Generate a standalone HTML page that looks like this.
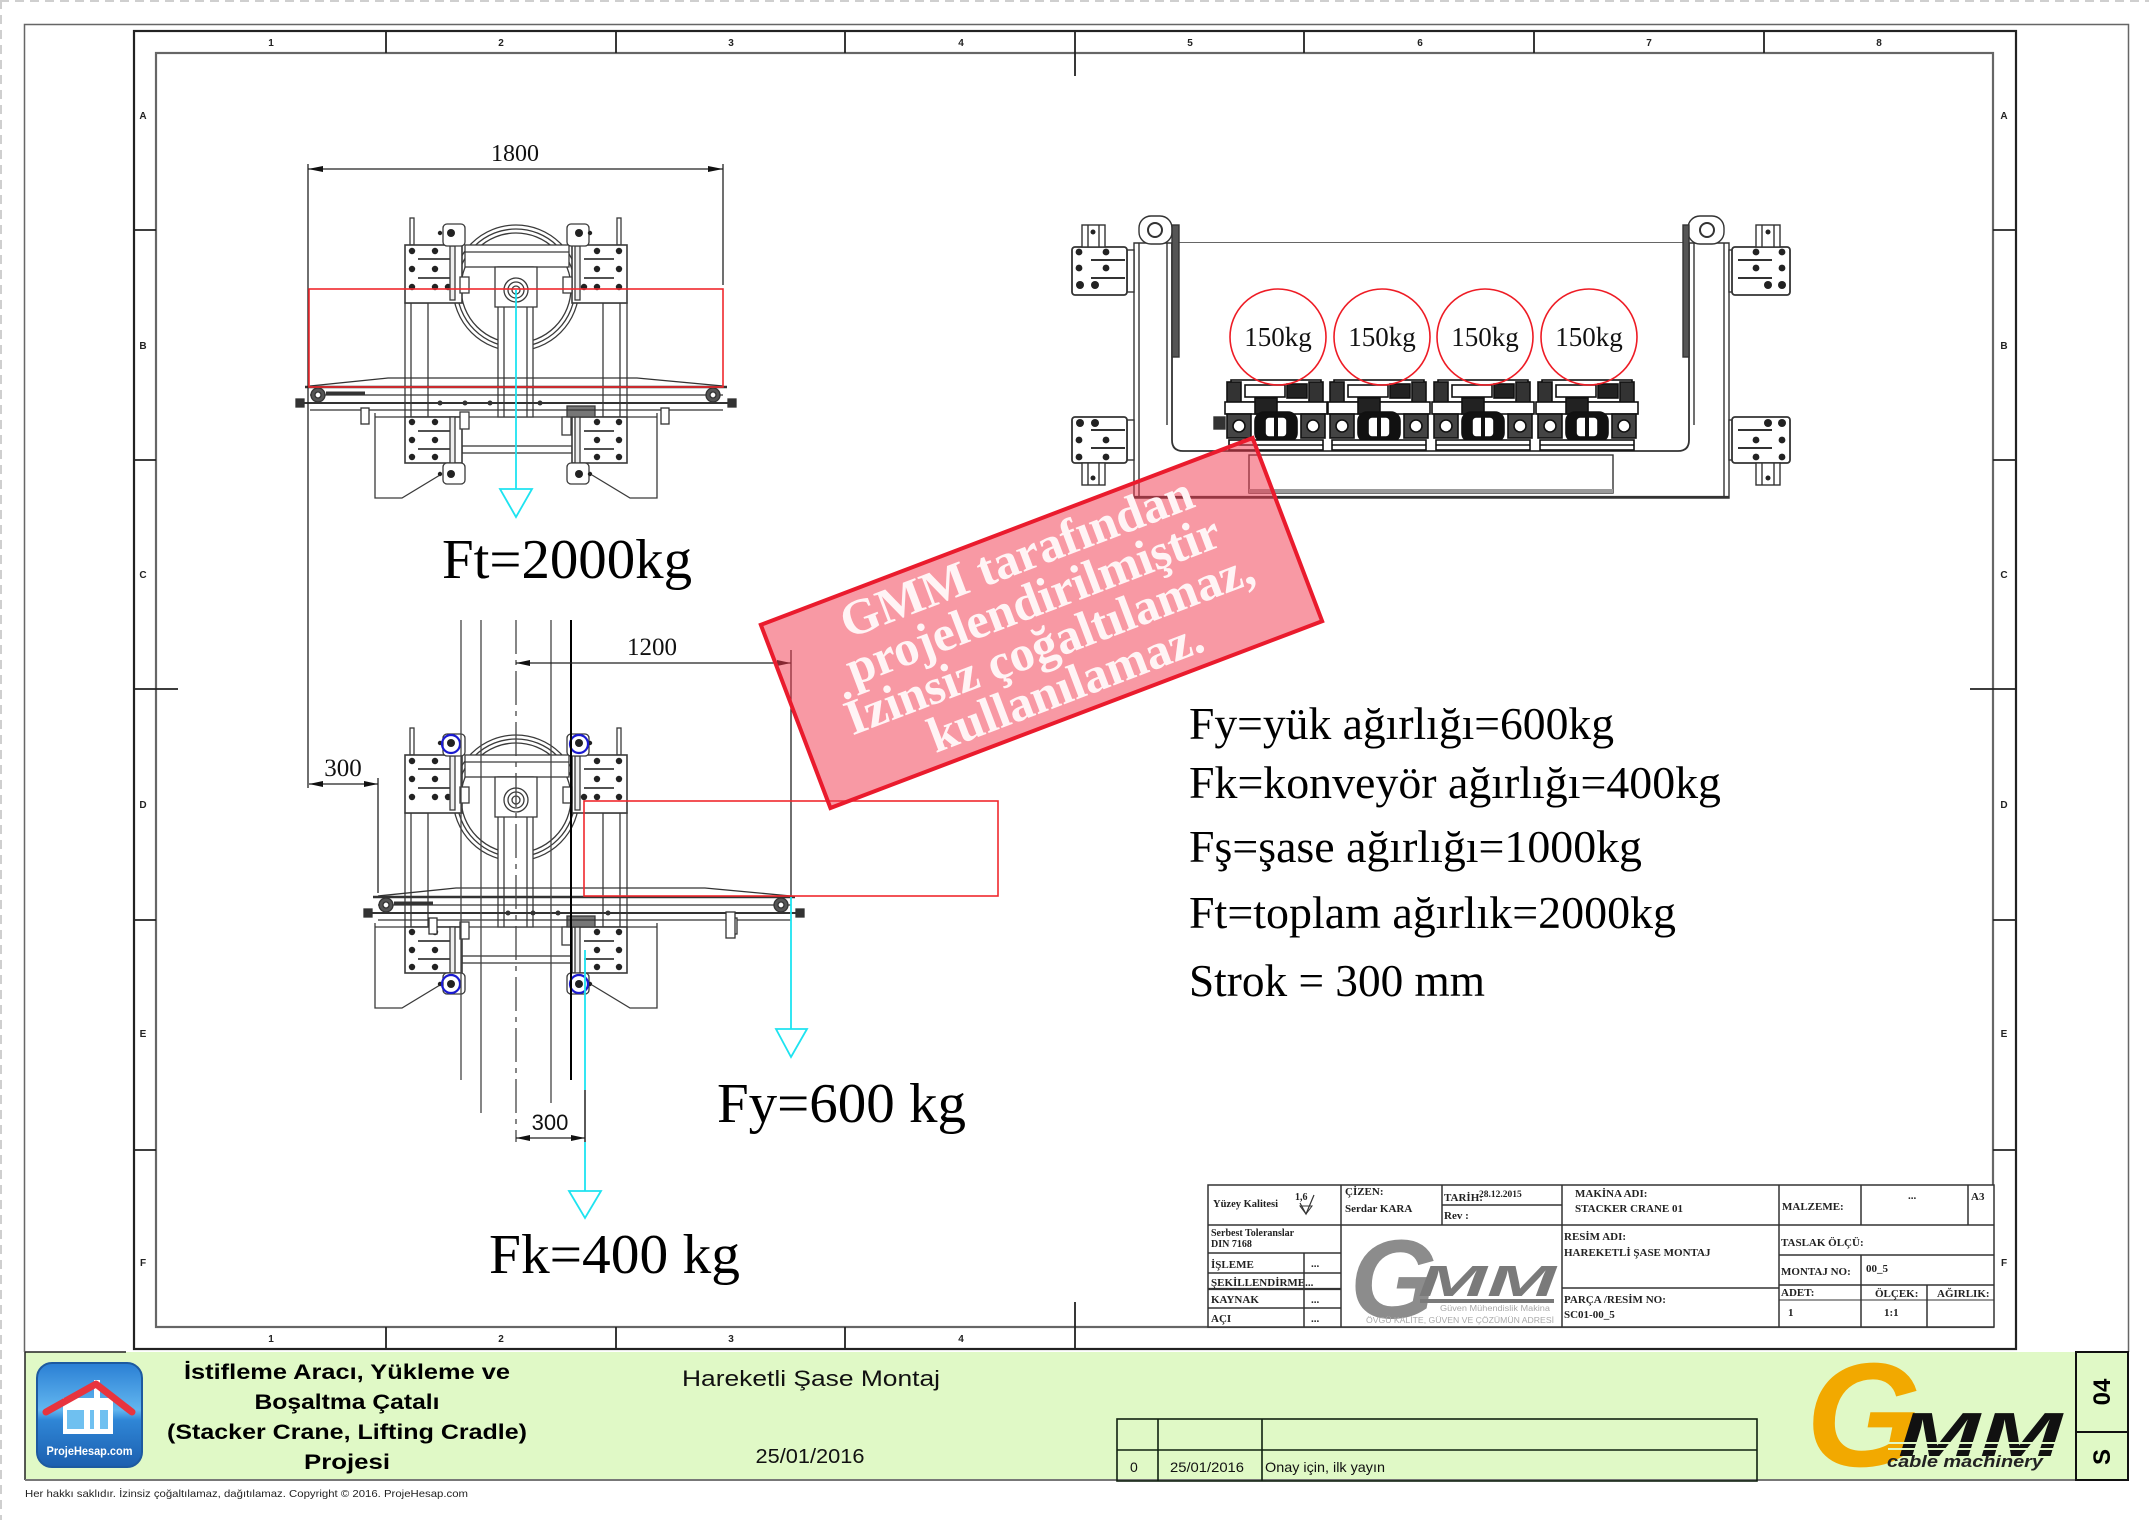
<!DOCTYPE html>
<html><head><meta charset="utf-8"><style>
html,body{margin:0;padding:0;background:#fff;}
svg{display:block;}
.s{font-family:"Liberation Sans",sans-serif;}
.r{font-family:"Liberation Serif",serif;}
</style></head><body>
<svg width="2149" height="1520" viewBox="0 0 2149 1520" xmlns="http://www.w3.org/2000/svg">
<defs>
<linearGradient id="pb" x1="0" y1="0" x2="0" y2="1">
<stop offset="0" stop-color="#2a7fd4"/><stop offset="0.45" stop-color="#62b6ef"/><stop offset="0.55" stop-color="#2f86d6"/><stop offset="1" stop-color="#1c5faf"/>
</linearGradient>
<g id="cr" fill="none" stroke="#3a3a3a" stroke-width="1.3">
 <circle cx="516" cy="288" r="63"/><circle cx="516" cy="288" r="59"/><circle cx="516" cy="288" r="55"/>
 <line x1="375" y1="417" x2="657" y2="417"/>
 <path d="M375,413 V498 H402 L440,475"/><path d="M657,413 V498 H630 L592,475"/>
 <rect x="462" y="446" width="110" height="7" fill="#fff"/>
 <rect x="465" y="245" width="104" height="22" fill="#fff"/>
 <line x1="465" y1="252" x2="569" y2="252"/>
 <rect x="498" y="267" width="35" height="150" fill="#fff"/>
 <line x1="504" y1="307" x2="504" y2="417"/><line x1="527" y1="307" x2="527" y2="417"/>
 <rect x="495" y="267" width="42" height="40" fill="#fff"/>
 <circle cx="516" cy="290" r="12"/><circle cx="516" cy="290" r="8"/><circle cx="516" cy="290" r="4"/>
 <rect x="410" y="218" width="4" height="27" fill="#fff"/><rect x="617" y="218" width="4" height="27" fill="#fff"/>
 <rect x="405" y="303" width="23" height="114" fill="#fff"/><line x1="411" y1="303" x2="411" y2="417"/>
 <rect x="603" y="303" width="24" height="114" fill="#fff"/><line x1="620" y1="303" x2="620" y2="417"/>
 <line x1="428" y1="303" x2="452" y2="293"/><line x1="603" y1="303" x2="579" y2="293"/>
 <rect x="405" y="245" width="57" height="58" fill="#fff" stroke-width="1.6"/>
 <rect x="572" y="245" width="55" height="58" fill="#fff" stroke-width="1.6"/>
 <rect x="405" y="417" width="57" height="46" fill="#fff" stroke-width="1.6"/>
 <rect x="572" y="417" width="55" height="46" fill="#fff" stroke-width="1.6"/>
 <g stroke-width="1.8"><line x1="418" y1="259" x2="450" y2="259"/><line x1="418" y1="278" x2="450" y2="278"/>
 <line x1="584" y1="259" x2="614" y2="259"/><line x1="584" y1="278" x2="614" y2="278"/>
 <line x1="418" y1="431" x2="450" y2="431"/><line x1="418" y1="449" x2="450" y2="449"/>
 <line x1="584" y1="431" x2="614" y2="431"/><line x1="584" y1="449" x2="614" y2="449"/></g>
 <g fill="#222" stroke="none">
 <circle cx="412" cy="251" r="3.2"/><circle cx="435" cy="251" r="3.2"/><circle cx="412" cy="269" r="3.2"/><circle cx="435" cy="269" r="3.2"/><circle cx="412" cy="287" r="3.2"/><circle cx="435" cy="287" r="3.2"/><circle cx="448" cy="287" r="3.2"/>
 <circle cx="597" cy="251" r="3.2"/><circle cx="619" cy="251" r="3.2"/><circle cx="597" cy="269" r="3.2"/><circle cx="619" cy="269" r="3.2"/><circle cx="584" cy="287" r="3.2"/><circle cx="597" cy="287" r="3.2"/><circle cx="619" cy="287" r="3.2"/>
 <circle cx="412" cy="422" r="3.2"/><circle cx="435" cy="422" r="3.2"/><circle cx="412" cy="440" r="3.2"/><circle cx="435" cy="440" r="3.2"/><circle cx="412" cy="457" r="3.2"/><circle cx="435" cy="457" r="3.2"/>
 <circle cx="597" cy="422" r="3.2"/><circle cx="619" cy="422" r="3.2"/><circle cx="597" cy="440" r="3.2"/><circle cx="619" cy="440" r="3.2"/><circle cx="597" cy="457" r="3.2"/><circle cx="619" cy="457" r="3.2"/>
 </g>
 <rect x="450" y="246" width="5" height="54" fill="#eee"/><rect x="575" y="246" width="5" height="54" fill="#eee"/>
 <rect x="450" y="417" width="5" height="46" fill="#eee"/><rect x="575" y="417" width="5" height="46" fill="#eee"/>
 <rect x="460" y="277" width="9" height="16" fill="#fff"/><rect x="563" y="277" width="9" height="16" fill="#fff"/>
 <rect x="460" y="412" width="9" height="17" fill="#fff"/><rect x="562" y="417" width="9" height="18" fill="#fff"/>
 <rect x="567" y="406" width="28" height="11" fill="#777"/>
 <rect x="443" y="224" width="22" height="22" rx="4" fill="#fff"/><rect x="567" y="224" width="22" height="22" rx="4" fill="#fff"/>
 <rect x="443" y="463" width="22" height="21" rx="4" fill="#fff"/><rect x="567" y="463" width="22" height="21" rx="4" fill="#fff"/>
 <g fill="#222" stroke="none"><circle cx="451" cy="233" r="4"/><circle cx="579" cy="233" r="4"/><circle cx="451" cy="474" r="4"/><circle cx="579" cy="474" r="4"/>
 <circle cx="440" cy="233" r="2.2"/><circle cx="590" cy="233" r="2.2"/><circle cx="440" cy="474" r="2.2"/><circle cx="590" cy="474" r="2.2"/></g>
</g>
<g id="cv" fill="none" stroke="#333" stroke-width="1.3">
 <path d="M310,386 L388,378 L637,378 L723,386"/>
 <line x1="305" y1="387" x2="727" y2="387" stroke-width="2.5"/>
 <line x1="310" y1="395" x2="723" y2="395"/>
 <line x1="300" y1="403" x2="732" y2="403" stroke-width="2"/>
 <line x1="310" y1="410" x2="723" y2="410"/>
 <circle cx="318" cy="395" r="7" fill="#555"/><circle cx="318" cy="395" r="3" fill="#fff"/>
 <circle cx="713" cy="395" r="7" fill="#555"/><circle cx="713" cy="395" r="3" fill="#fff"/>
 <rect x="296" y="399" width="8" height="8" fill="#333"/><rect x="728" y="399" width="8" height="8" fill="#333"/>
 <line x1="326" y1="393" x2="365" y2="393" stroke-width="3"/>
 <rect x="361" y="408" width="8" height="16" fill="#fff"/><rect x="661" y="408" width="8" height="16" fill="#fff"/>
 <g fill="#333" stroke="none"><circle cx="440" cy="403" r="2.5"/><circle cx="465" cy="403" r="2.5"/><circle cx="490" cy="403" r="2.5"/><circle cx="540" cy="403" r="2.5"/></g>
</g>
<g id="cu" fill="none" stroke="#111" stroke-width="1.6">
 <rect x="6" y="0" width="90" height="22" fill="#fff"/>
 <rect x="20" y="5" width="40" height="12" fill="#fff"/>
 <rect x="2" y="2" width="14" height="26" fill="#333"/>
 <rect x="84" y="2" width="14" height="26" fill="#333"/>
 <rect x="62" y="4" width="20" height="14" fill="#222"/>
 <rect x="0" y="22" width="102" height="12" fill="#fff"/>
 <rect x="30" y="18" width="22" height="16" fill="#222"/>
 <rect x="2" y="34" width="24" height="24" fill="#444"/>
 <circle cx="14" cy="46" r="6" fill="#fff"/>
 <rect x="30" y="32" width="42" height="30" rx="9" fill="#111"/>
 <rect x="40" y="37" width="22" height="20" rx="4" fill="#fff"/>
 <line x1="51" y1="37" x2="51" y2="57" stroke-width="4"/>
 <rect x="76" y="34" width="24" height="24" fill="#444"/>
 <circle cx="88" cy="46" r="6" fill="#fff"/>
 <rect x="4" y="60" width="94" height="10" fill="#fff"/>
 <line x1="4" y1="65" x2="98" y2="65"/>
</g>
</defs>

<rect x="0" y="0" width="2149" height="1520" fill="#fff"/>
<line x1="0" y1="1" x2="2149" y2="1" stroke="#cfcfcf" stroke-width="2" stroke-dasharray="9 6"/>
<line x1="1" y1="0" x2="1" y2="1520" stroke="#cfcfcf" stroke-width="2" stroke-dasharray="9 6"/>
<path d="M24.5,1352 V24.5 H2128.5 V1352" fill="none" stroke="#666" stroke-width="1.5"/>

<!-- drawing frame -->
<rect x="134" y="31" width="1882" height="1318" fill="none" stroke="#222" stroke-width="2.2"/>
<rect x="156" y="53" width="1837" height="1274" fill="none" stroke="#666" stroke-width="2.2"/>
<g stroke="#222" stroke-width="1.8">
<line x1="386" y1="31" x2="386" y2="53"/><line x1="616" y1="31" x2="616" y2="53"/><line x1="845" y1="31" x2="845" y2="53"/><line x1="1075" y1="31" x2="1075" y2="76"/><line x1="1304" y1="31" x2="1304" y2="53"/><line x1="1534" y1="31" x2="1534" y2="53"/><line x1="1764" y1="31" x2="1764" y2="53"/>
<line x1="386" y1="1327" x2="386" y2="1349"/><line x1="616" y1="1327" x2="616" y2="1349"/><line x1="845" y1="1327" x2="845" y2="1349"/><line x1="1075" y1="1302" x2="1075" y2="1349"/>
<line x1="134" y1="230" x2="156" y2="230"/><line x1="134" y1="460" x2="156" y2="460"/><line x1="134" y1="689" x2="178" y2="689"/><line x1="134" y1="920" x2="156" y2="920"/><line x1="134" y1="1150" x2="156" y2="1150"/>
<line x1="1993" y1="230" x2="2016" y2="230"/><line x1="1993" y1="460" x2="2016" y2="460"/><line x1="1970" y1="689" x2="2016" y2="689"/><line x1="1993" y1="920" x2="2016" y2="920"/><line x1="1993" y1="1150" x2="2016" y2="1150"/>
</g>
<g class="s" font-size="10" font-weight="bold" fill="#222" text-anchor="middle">
<text x="271" y="46">1</text><text x="501" y="46">2</text><text x="731" y="46">3</text><text x="961" y="46">4</text><text x="1190" y="46">5</text><text x="1420" y="46">6</text><text x="1649" y="46">7</text><text x="1879" y="46">8</text>
<text x="271" y="1342">1</text><text x="501" y="1342">2</text><text x="731" y="1342">3</text><text x="961" y="1342">4</text>
<text x="143" y="119">A</text><text x="143" y="349">B</text><text x="143" y="578">C</text><text x="143" y="808">D</text><text x="143" y="1037">E</text><text x="143" y="1266">F</text>
<text x="2004" y="119">A</text><text x="2004" y="349">B</text><text x="2004" y="578">C</text><text x="2004" y="808">D</text><text x="2004" y="1037">E</text><text x="2004" y="1266">F</text>
</g>

<!-- drawing 1 & 2 -->
<use href="#cr"/>
<use href="#cv"/>
<use href="#cr" transform="translate(0,510)"/>
<use href="#cv" transform="translate(68,510)"/>
<g fill="none" stroke="#333" stroke-width="1.3"><rect x="726" y="912" width="9" height="26" fill="#fff"/></g>
<g fill="none" stroke="#1a1ad0" stroke-width="2.2">
<circle cx="451" cy="744" r="9"/><circle cx="579" cy="744" r="9"/><circle cx="451" cy="984" r="9"/><circle cx="579" cy="984" r="9"/>
</g>
<!-- long vertical lines of drawing 2 -->
<g stroke="#444" stroke-width="1.3">
<line x1="461" y1="620" x2="461" y2="1080"/>
<line x1="481" y1="620" x2="481" y2="1113"/>
<line x1="516" y1="620" x2="516" y2="1142" stroke-dasharray="34 6 5 6"/>
<line x1="551" y1="620" x2="551" y2="1103"/>
<line x1="571" y1="620" x2="571" y2="1080" stroke="#000" stroke-width="2"/>
<line x1="585" y1="1090" x2="585" y2="1142" stroke="#000"/>
</g>

<!-- dimensions -->
<g stroke="#222" stroke-width="1.3" fill="none">
<line x1="308" y1="164" x2="308" y2="788"/>
<line x1="723" y1="164" x2="723" y2="285"/>
<line x1="308" y1="169" x2="723" y2="169"/>
<line x1="309" y1="784" x2="378" y2="784"/>
<line x1="378" y1="778" x2="378" y2="893"/>
<line x1="516" y1="663" x2="791" y2="663"/>
<line x1="791" y1="650" x2="791" y2="897"/>
<line x1="516" y1="1138" x2="585" y2="1138"/>
</g>
<g fill="#111">
<polygon points="308,169 323,166 323,172"/><polygon points="723,169 708,166 708,172"/>
<polygon points="309,784 323,781 323,787"/><polygon points="378,784 364,781 364,787"/>
<polygon points="516,663 530,660 530,666"/><polygon points="791,663 777,660 777,666"/>
<polygon points="516,1138 530,1135 530,1141"/><polygon points="585,1138 571,1135 571,1141"/>
</g>
<g class="r" fill="#111" text-anchor="middle">
<text x="515" y="161" font-size="24">1800</text>
<text x="652" y="655" font-size="25">1200</text>
<text x="343" y="776" font-size="25">300</text>
</g>
<text class="s" x="550" y="1130" font-size="22" fill="#111" text-anchor="middle">300</text>

<!-- red load rectangles -->
<g fill="none" stroke="#f0282d" stroke-width="1.6">
<rect x="309" y="289" width="414" height="98"/>
<rect x="584" y="801" width="414" height="95"/>
</g>

<!-- right side view -->
<g fill="none" stroke="#333" stroke-width="1.4">
 <path d="M1134,243 V498 H1729 V243 Z" fill="none"/>
 <line x1="1139" y1="243" x2="1139" y2="498"/><line x1="1724" y1="243" x2="1724" y2="498"/>
 <line x1="1167" y1="243" x2="1167" y2="425"/><line x1="1694" y1="243" x2="1694" y2="425"/>
 <path d="M1172,243 V440 Q1172,451 1183,451 H1678 Q1689,451 1689,440 V243" stroke-width="1.8" fill="#fff"/>
 <rect x="1249" y="455" width="364" height="38"/>
 <line x1="1249" y1="491" x2="1613" y2="491" stroke="#999" stroke-width="4"/>
 <line x1="1134" y1="497" x2="1729" y2="497" stroke-width="2.2"/>
 <rect x="1139" y="216" width="33" height="28" rx="12" fill="#fff"/>
 <circle cx="1155" cy="230" r="7" stroke-width="2"/>
 <rect x="1688" y="216" width="36" height="28" rx="12" fill="#fff"/>
 <circle cx="1707" cy="230" r="7" stroke-width="2"/>
 <rect x="1172" y="225" width="7" height="132" fill="#555"/>
 <rect x="1683" y="225" width="6" height="132" fill="#555"/>
 <rect x="1127" y="250" width="7" height="42" fill="#fff"/><rect x="1127" y="420" width="7" height="40" fill="#fff"/>
 <rect x="1729" y="250" width="4" height="42" fill="#fff"/><rect x="1729" y="420" width="4" height="40" fill="#fff"/>
 <rect x="1072" y="247" width="55" height="48" rx="3" fill="#fff" stroke-width="1.8"/>
 <rect x="1072" y="417" width="55" height="46" rx="3" fill="#fff" stroke-width="1.8"/>
 <rect x="1732" y="247" width="58" height="48" rx="3" fill="#fff" stroke-width="1.8"/>
 <rect x="1732" y="417" width="58" height="46" rx="3" fill="#fff" stroke-width="1.8"/>
 <rect x="1082" y="225" width="23" height="22" fill="#fff"/><line x1="1088" y1="225" x2="1088" y2="247"/><line x1="1099" y1="225" x2="1099" y2="247"/>
 <rect x="1082" y="463" width="23" height="22" fill="#fff"/><line x1="1088" y1="463" x2="1088" y2="485"/><line x1="1099" y1="463" x2="1099" y2="485"/>
 <rect x="1756" y="225" width="24" height="22" fill="#fff"/><line x1="1762" y1="225" x2="1762" y2="247"/><line x1="1774" y1="225" x2="1774" y2="247"/>
 <rect x="1756" y="463" width="24" height="22" fill="#fff"/><line x1="1762" y1="463" x2="1762" y2="485"/><line x1="1774" y1="463" x2="1774" y2="485"/>
 <g stroke-width="2"><line x1="1091" y1="260" x2="1125" y2="260"/><line x1="1091" y1="278" x2="1125" y2="278"/>
 <line x1="1091" y1="430" x2="1125" y2="430"/><line x1="1091" y1="448" x2="1125" y2="448"/>
 <line x1="1738" y1="260" x2="1772" y2="260"/><line x1="1738" y1="278" x2="1772" y2="278"/>
 <line x1="1738" y1="430" x2="1772" y2="430"/><line x1="1738" y1="448" x2="1772" y2="448"/></g>
 <g fill="#222" stroke="none">
 <circle cx="1079" cy="252" r="3.4"/><circle cx="1106" cy="252" r="3.4"/><circle cx="1079" cy="268" r="3.4"/><circle cx="1106" cy="268" r="3.4"/><circle cx="1080" cy="285" r="4"/><circle cx="1095" cy="285" r="4"/>
 <circle cx="1080" cy="423" r="4"/><circle cx="1095" cy="423" r="4"/><circle cx="1079" cy="440" r="3.4"/><circle cx="1106" cy="440" r="3.4"/><circle cx="1079" cy="457" r="3.4"/><circle cx="1106" cy="457" r="3.4"/>
 <circle cx="1756" cy="252" r="3.4"/><circle cx="1782" cy="252" r="3.4"/><circle cx="1756" cy="268" r="3.4"/><circle cx="1782" cy="268" r="3.4"/><circle cx="1768" cy="285" r="4"/><circle cx="1782" cy="285" r="4"/>
 <circle cx="1768" cy="423" r="4"/><circle cx="1782" cy="423" r="4"/><circle cx="1756" cy="440" r="3.4"/><circle cx="1782" cy="440" r="3.4"/><circle cx="1756" cy="457" r="3.4"/><circle cx="1782" cy="457" r="3.4"/>
 <circle cx="1093" cy="232" r="2.5"/><circle cx="1093" cy="478" r="2.5"/><circle cx="1768" cy="232" r="2.5"/><circle cx="1768" cy="478" r="2.5"/>
 </g>
 <rect x="1214" y="417" width="11" height="12" fill="#333"/>
</g>
<use href="#cu" transform="translate(1225,380)"/>
<use href="#cu" transform="translate(1328,380)"/>
<use href="#cu" transform="translate(1432,380)"/>
<use href="#cu" transform="translate(1536,380)"/>
<g fill="none" stroke="#ee1c25" stroke-width="1.6">
<circle cx="1278" cy="337" r="48"/><circle cx="1382" cy="337" r="48"/><circle cx="1485" cy="337" r="48"/><circle cx="1589" cy="337" r="48"/>
</g>
<g class="r" font-size="27" fill="#111" text-anchor="middle">
<text x="1278" y="346">150kg</text><text x="1382" y="346">150kg</text><text x="1485" y="346">150kg</text><text x="1589" y="346">150kg</text>
</g>

<!-- force arrows -->
<g fill="none" stroke="#1ee3f0" stroke-width="1.8">
<line x1="516" y1="290" x2="516" y2="489"/><polygon points="500,489 532,489 516,517"/>
<line x1="791" y1="897" x2="791" y2="1029"/><polygon points="776,1029 807,1029 791,1057"/>
<line x1="585" y1="950" x2="585" y2="1090"/><line x1="585" y1="1142" x2="585" y2="1191"/><polygon points="569,1191 601,1191 585,1218"/>
</g>
<g class="r" fill="#000" font-size="56">
<text x="442" y="578" textLength="250" lengthAdjust="spacingAndGlyphs">Ft=2000kg</text>
<text x="717" y="1122" textLength="249" lengthAdjust="spacingAndGlyphs">Fy=600 kg</text>
<text x="489" y="1273" textLength="251" lengthAdjust="spacingAndGlyphs">Fk=400 kg</text>
</g>
<g class="r" fill="#000" font-size="45">
<text x="1189" y="739" textLength="425" lengthAdjust="spacingAndGlyphs">Fy=yük ağırlığı=600kg</text>
<text x="1189" y="798" textLength="532" lengthAdjust="spacingAndGlyphs">Fk=konveyör ağırlığı=400kg</text>
<text x="1189" y="862" textLength="453" lengthAdjust="spacingAndGlyphs">Fş=şase ağırlığı=1000kg</text>
<text x="1189" y="928" textLength="487" lengthAdjust="spacingAndGlyphs">Ft=toplam ağırlık=2000kg</text>
<text x="1189" y="996" textLength="296" lengthAdjust="spacingAndGlyphs">Strok = 300 mm</text>
</g>

<!-- title block -->
<g stroke="#333" stroke-width="1.5" fill="none">
<rect x="1208" y="1185" width="786" height="142" fill="#fff"/>
<line x1="1208" y1="1225" x2="1994" y2="1225"/>
<line x1="1341" y1="1185" x2="1341" y2="1327"/>
<line x1="1442" y1="1185" x2="1442" y2="1225"/>
<line x1="1562" y1="1185" x2="1562" y2="1327"/>
<line x1="1779" y1="1185" x2="1779" y2="1327"/>
<line x1="1861" y1="1185" x2="1861" y2="1225"/>
<line x1="1968" y1="1185" x2="1968" y2="1225"/>
<line x1="1442" y1="1205" x2="1562" y2="1205"/>
<line x1="1208" y1="1253" x2="1341" y2="1253"/>
<line x1="1208" y1="1273" x2="1341" y2="1273"/>
<line x1="1208" y1="1289" x2="1341" y2="1289" stroke-width="2.2"/>
<line x1="1208" y1="1308" x2="1341" y2="1308"/>
<line x1="1304" y1="1253" x2="1304" y2="1327"/>
<line x1="1562" y1="1288" x2="1779" y2="1288"/>
<line x1="1779" y1="1255" x2="1994" y2="1255"/>
<line x1="1779" y1="1285" x2="1994" y2="1285"/>
<line x1="1861" y1="1255" x2="1861" y2="1327"/>
<line x1="1927" y1="1285" x2="1927" y2="1327"/>
<line x1="1779" y1="1300" x2="1994" y2="1300" stroke-width="1"/>
<path d="M1300,1203 L1306,1214 L1314,1195" stroke-width="1.2"/>
<path d="M1300,1206 H1312 L1306,1214 Z" stroke-width="1"/>
</g>
<g class="r" font-weight="bold" fill="#222" font-size="11">
<text x="1213" y="1207" font-size="10.5">Yüzey Kalitesi</text>
<text x="1295" y="1200" font-size="10">1,6</text>
<text x="1345" y="1195">ÇİZEN:</text>
<text x="1345" y="1212">Serdar KARA</text>
<text x="1444" y="1201">TARİH:</text>
<text x="1479" y="1197" font-size="9.5">28.12.2015</text>
<text x="1444" y="1219">Rev :</text>
<text x="1575" y="1197">MAKİNA ADI:</text>
<text x="1575" y="1212">STACKER CRANE 01</text>
<text x="1782" y="1210">MALZEME:</text>
<text x="1908" y="1199">...</text>
<text x="1971" y="1200">A3</text>
<text x="1211" y="1236" font-size="10">Serbest Toleranslar</text>
<text x="1211" y="1247" font-size="10">DIN 7168</text>
<text x="1211" y="1268">İŞLEME</text><text x="1311" y="1267">...</text>
<text x="1211" y="1286">ŞEKİLLENDİRME...</text>
<text x="1211" y="1303">KAYNAK</text><text x="1311" y="1303">...</text>
<text x="1211" y="1322">AÇI</text><text x="1311" y="1322">...</text>
<text x="1564" y="1240">RESİM ADI:</text>
<text x="1564" y="1256">HAREKETLİ ŞASE MONTAJ</text>
<text x="1564" y="1303">PARÇA /RESİM NO:</text>
<text x="1564" y="1318">SC01-00_5</text>
<text x="1781" y="1246">TASLAK ÖLÇÜ:</text>
<text x="1781" y="1275">MONTAJ NO:</text><text x="1866" y="1272">00_5</text>
<text x="1781" y="1296">ADET:</text><text x="1788" y="1316">1</text>
<text x="1875" y="1297">ÖLÇEK:</text><text x="1884" y="1316">1:1</text>
<text x="1937" y="1297">AĞIRLIK:</text>
</g>
<!-- grey GMM logo in title block -->
<text class="s" x="1350" y="1318" font-size="112" font-weight="bold" font-style="italic" fill="#8c8c8c">G</text>
<text class="s" x="1418" y="1296" font-size="44" font-weight="bold" font-style="italic" fill="#7a7a7a" textLength="138" lengthAdjust="spacingAndGlyphs">MM</text>
<rect x="1420" y="1299" width="134" height="4" fill="#7a7a7a"/>
<text class="s" x="1440" y="1311" font-size="8" fill="#aaa" textLength="110" lengthAdjust="spacingAndGlyphs">Güven Mühendislik Makina</text>
<text class="s" x="1366" y="1323" font-size="8" fill="#aaa" textLength="188" lengthAdjust="spacingAndGlyphs">ÖVGÜ KALİTE, GÜVEN VE ÇÖZÜMÜN ADRESİ</text>

<!-- watermark stamp -->
<g transform="translate(1041.5,623) rotate(-20.8)">
<rect x="-263" y="-98" width="526" height="196" fill="rgba(242,60,80,0.52)" stroke="#ea1b2d" stroke-width="4"/>
<g class="r" font-weight="bold" font-size="50" fill="#fff4f5" text-anchor="middle">
<text x="0" y="-54">GMM tarafından</text>
<text x="0" y="-8">projelendirilmiştir</text>
<text x="0" y="38">İzinsiz çoğaltılamaz,</text>
<text x="0" y="84">kullanılamaz.</text>
</g>
</g>

<!-- green title band -->
<rect x="25" y="1352" width="2103" height="128" fill="#e0f9c6"/>
<line x1="25" y1="1352" x2="25" y2="1480" stroke="#222" stroke-width="1.5"/>
<line x1="25" y1="1352" x2="126" y2="1352" stroke="#222" stroke-width="1.5"/>
<line x1="25" y1="1480" x2="2076" y2="1480" stroke="#777" stroke-width="2"/>
<!-- ProjeHesap logo -->
<rect x="37" y="1363" width="105" height="104" rx="15" fill="url(#pb)" stroke="#1d5aa0" stroke-width="2"/>
<rect x="63" y="1398" width="50" height="36" fill="#fff"/>
<rect x="67" y="1410" width="17" height="19" fill="#6fc0f0"/>
<rect x="90" y="1410" width="18" height="19" fill="#6fc0f0"/>
<rect x="94" y="1380" width="6" height="54" fill="#fff"/>
<polyline points="46,1412 96,1384 132,1412" fill="none" stroke="#e8343e" stroke-width="7" stroke-linecap="round" stroke-linejoin="round"/>
<text class="s" x="89.5" y="1455" font-size="11.5" font-weight="bold" fill="#fff" text-anchor="middle" textLength="86" lengthAdjust="spacingAndGlyphs">ProjeHesap.com</text>
<!-- title texts -->
<g class="s" font-weight="bold" font-size="21" fill="#000" text-anchor="middle">
<text x="347" y="1379" textLength="326" lengthAdjust="spacingAndGlyphs">İstifleme Aracı, Yükleme ve</text>
<text x="347" y="1409" textLength="185" lengthAdjust="spacingAndGlyphs">Boşaltma Çatalı</text>
<text x="347" y="1439" textLength="360" lengthAdjust="spacingAndGlyphs">(Stacker Crane, Lifting Cradle)</text>
<text x="347" y="1469" textLength="86" lengthAdjust="spacingAndGlyphs">Projesi</text>
</g>
<text class="s" x="811" y="1386" font-size="22" fill="#111" text-anchor="middle" textLength="258" lengthAdjust="spacingAndGlyphs">Hareketli Şase Montaj</text>
<text class="s" x="810" y="1463" font-size="20" fill="#111" text-anchor="middle" textLength="109" lengthAdjust="spacingAndGlyphs">25/01/2016</text>
<!-- revision table -->
<g stroke="#112211" stroke-width="1.6" fill="none">
<rect x="1117" y="1419" width="640" height="62"/>
<line x1="1117" y1="1450" x2="1757" y2="1450"/>
<line x1="1158" y1="1419" x2="1158" y2="1481"/>
<line x1="1262" y1="1419" x2="1262" y2="1481"/>
</g>
<g class="s" font-size="14" fill="#111">
<text x="1130" y="1472">0</text>
<text x="1170" y="1472" textLength="74" lengthAdjust="spacingAndGlyphs">25/01/2016</text>
<text x="1265" y="1472" textLength="120" lengthAdjust="spacingAndGlyphs">Onay için, ilk yayın</text>
</g>
<!-- GMM cable machinery logo -->
<text class="s" x="1806" y="1466" font-size="148" font-weight="bold" font-style="italic" fill="#f2a900">G</text>
<text class="s" x="1898" y="1456" font-size="62" font-weight="bold" font-style="italic" fill="#111" textLength="164" lengthAdjust="spacingAndGlyphs">MM</text>
<line x1="1888" y1="1443" x2="2062" y2="1443" stroke="#e0f9c6" stroke-width="2"/>
<line x1="1888" y1="1449" x2="2062" y2="1449" stroke="#e0f9c6" stroke-width="2"/>
<text class="s" x="1887" y="1467" font-size="17" font-weight="bold" font-style="italic" fill="#222" textLength="156" lengthAdjust="spacingAndGlyphs">cable machinery</text>
<!-- 04 / S box -->
<rect x="2076" y="1352" width="52" height="128" fill="#e0f9c6" stroke="#111" stroke-width="2"/>
<line x1="2076" y1="1432" x2="2128" y2="1432" stroke="#111" stroke-width="2"/>
<g class="s" font-weight="bold" font-size="24" fill="#000" text-anchor="middle">
<text transform="translate(2110,1392) rotate(-90)">04</text>
<text transform="translate(2110,1457) rotate(-90)">S</text>
</g>
<!-- footer -->
<text class="s" x="25" y="1497" font-size="10.5" fill="#222" textLength="443" lengthAdjust="spacingAndGlyphs">Her hakkı saklıdır. İzinsiz çoğaltılamaz, dağıtılamaz. Copyright © 2016. ProjeHesap.com</text>
</svg>
</body></html>
